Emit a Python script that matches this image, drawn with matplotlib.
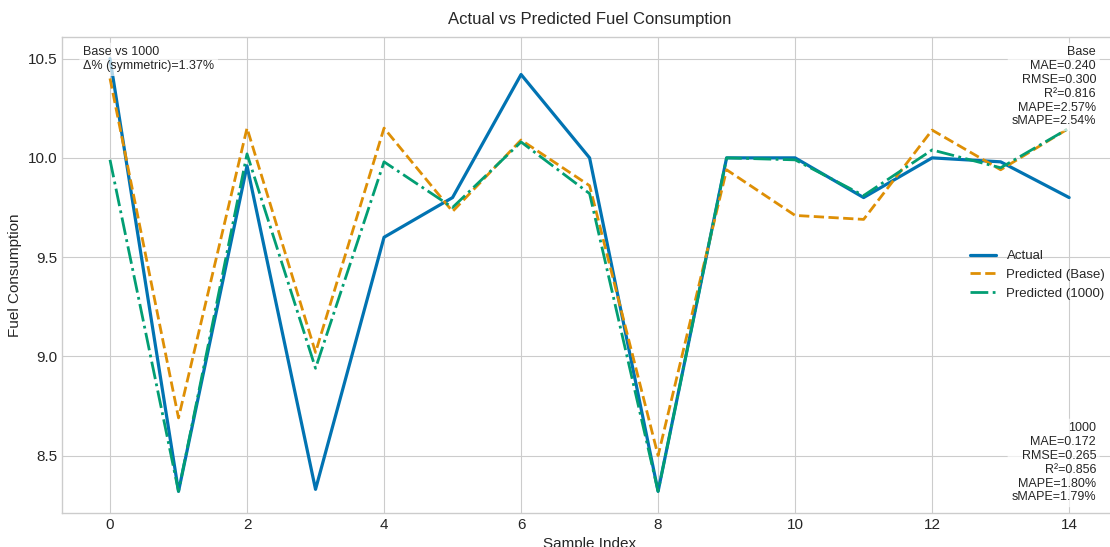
import matplotlib
matplotlib.use("Agg")

import matplotlib.pyplot as plt
import numpy as np

# ── 数据 ──
sample_idx = np.arange(15)
actual = [10.50, 8.32, 9.96, 8.33, 9.60, 9.80, 10.42, 10.00, 8.32, 10.00, 10.00, 9.80, 10.00, 9.98, 9.80]
pred_base = [10.40, 8.69, 10.15, 9.02, 10.15, 9.73, 10.09, 9.86, 8.50, 9.94, 9.71, 9.69, 10.14, 9.94, 10.15]
pred_1000 = [9.99, 8.32, 10.02, 8.94, 9.98, 9.75, 10.08, 9.82, 8.32, 10.00, 9.99, 9.81, 10.04, 9.95, 10.15]

series_labels = ["Actual", "Predicted (Base)", "Predicted (1000)"]
metrics_base = ["Base", "MAE=0.240", "RMSE=0.300", "R²=0.816", "MAPE=2.57%", "sMAPE=2.54%"]
metrics_1000 = ["1000", "MAE=0.172", "RMSE=0.265", "R²=0.856", "MAPE=1.80%", "sMAPE=1.79%"]
compare_text = ["Base vs 1000", "Δ% (symmetric)=1.37%"]

# ── 样式 ──
plt.style.use("seaborn-v0_8-whitegrid")
plt.rcParams["font.family"] = ["Liberation Sans", "DejaVu Sans"]

BLUE = "#0173B2"
ORANGE = "#DE8F05"
GREEN = "#029E73"

fig = plt.figure(figsize=(11.1, 5.47), dpi=100)
fig.patch.set_facecolor("white")
ax = fig.add_axes([0.0559, 0.0622, 0.9505, 0.8702])

ax.plot(sample_idx, actual, color=BLUE, linewidth=2.3, label=series_labels[0])
ax.plot(sample_idx, pred_base, color=ORANGE, linewidth=2.0, linestyle="--", label=series_labels[1])
ax.plot(sample_idx, pred_1000, color=GREEN, linewidth=2.0, linestyle="-.", label=series_labels[2])

ax.set_title("Actual vs Predicted Fuel Consumption", fontsize=12, pad=9)
ax.set_xlabel("Sample Index", fontsize=11)
ax.set_ylabel("Fuel Consumption", fontsize=11)
ax.tick_params(axis="both", labelsize=11)
ax.set_xticks(np.arange(0, 15, 2))
ax.set_yticks([8.5, 9.0, 9.5, 10.0, 10.5])

ax.legend(loc="center right", fontsize=9.5, frameon=False)

# ── 指标文本框 ──
box = dict(boxstyle="round,pad=0.3", facecolor="white", edgecolor="none", alpha=0.7)
ax.text(0.02, 0.98, "\n".join(compare_text), transform=ax.transAxes,
        fontsize=9, ha="left", va="top", bbox=box)
ax.text(0.98, 0.98, "\n".join(metrics_base), transform=ax.transAxes,
        fontsize=9, ha="right", va="top", multialignment="right", bbox=box)
ax.text(0.98, 0.02, "\n".join(metrics_1000), transform=ax.transAxes,
        fontsize=9, ha="right", va="bottom", multialignment="right", bbox=box)

fig.savefig("out.png", dpi=100, facecolor="white")
plt.close(fig)
